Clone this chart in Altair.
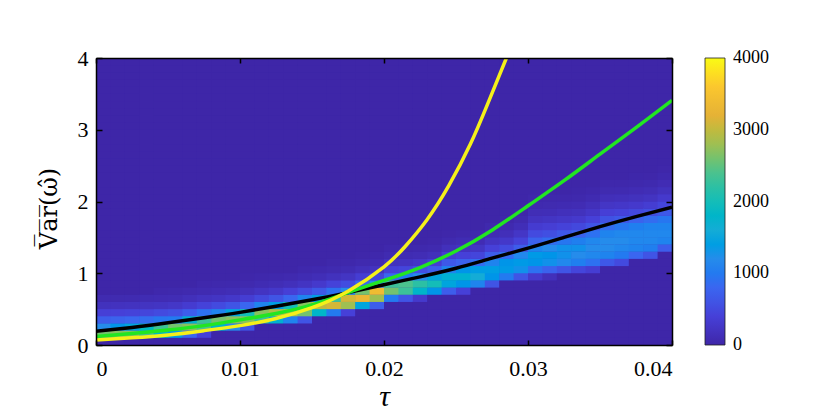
import altair as alt
import pandas as pd

# ---------------- data ----------------
tau_bin = 0.001          # heat-map column width (tau)
var_bin = 0.1            # heat-map row height (Var)
n_tau_bins = 40
n_var_bins = 40
cell_overlap = 0.04      # fraction of a bin by which cells overlap (hides seams)

# for every tau column: index of lowest non-zero Var bin, and counts upward from it
col_start = [1, 1, 1, 1, 1, 1, 1, 1, 2, 2,
             2, 3, 3, 3, 3, 4, 4, 4, 5, 5,
             6, 6, 6, 7, 7, 7, 8, 8, 9, 9,
             9, 9, 10, 10, 10, 11, 11, 12, 12, 13]
col_counts = [
    [2600, 1200, 700, 380, 180, 70],
    [2700, 1300, 750, 400, 190, 70],
    [2700, 1500, 800, 420, 200, 80],
    [2400, 1900, 850, 450, 210, 90],
    [1900, 2300, 950, 500, 230, 100, 30],
    [1400, 2600, 1000, 550, 260, 110, 40],
    [800, 2700, 1700, 700, 330, 150, 60],
    [400, 2400, 2300, 900, 420, 200, 80, 30],
    [1800, 2600, 1100, 500, 230, 100, 40],
    [1200, 2700, 1500, 600, 280, 120, 50],
    [600, 2700, 2000, 800, 350, 150, 60, 20],
    [2300, 2700, 1100, 480, 220, 90, 30],
    [1700, 2900, 1400, 600, 280, 120, 40],
    [1100, 2900, 2000, 800, 380, 160, 60],
    [600, 2600, 2700, 1100, 500, 220, 90, 30],
    [1800, 3000, 1400, 650, 300, 130, 50],
    [1000, 3100, 2300, 900, 420, 180, 70, 25],
    [400, 2800, 3100, 1200, 520, 230, 90, 30],
    [1500, 3300, 2600, 800, 350, 150, 60, 20],
    [700, 2800, 3400, 1200, 450, 200, 80, 30],
    [1000, 2600, 2300, 800, 400, 180, 80, 30],
    [600, 2300, 2400, 1000, 450, 200, 90, 30],
    [300, 1800, 2200, 1200, 550, 250, 110, 40],
    [1300, 2000, 1500, 700, 350, 150, 60, 20],
    [700, 1500, 1700, 1100, 650, 350, 160, 60, 20],
    [400, 1300, 1700, 1300, 750, 400, 200, 90, 30],
    [1100, 1600, 1400, 850, 450, 230, 100, 40],
    [600, 1300, 1400, 1100, 700, 400, 220, 100, 40],
    [1000, 1350, 1300, 850, 500, 280, 140, 60, 20],
    [600, 1250, 1350, 1150, 700, 420, 250, 130, 60, 20],
    [300, 900, 1300, 1350, 1100, 750, 500, 330, 200, 120, 60, 25],
    [150, 750, 1250, 1300, 1200, 850, 550, 370, 230, 130, 70, 30],
    [600, 1150, 1250, 1250, 950, 650, 420, 260, 160, 85, 35],
    [450, 1050, 1200, 1250, 1050, 750, 480, 300, 180, 100, 45, 15],
    [350, 900, 1150, 1200, 1150, 900, 600, 400, 250, 150, 80, 35],
    [650, 1100, 1200, 1200, 1100, 850, 580, 380, 240, 140, 70, 30],
    [500, 1000, 1150, 1200, 1150, 950, 650, 420, 270, 160, 80, 35],
    [800, 1100, 1150, 1150, 1050, 750, 480, 300, 180, 100, 45, 15],
    [600, 1050, 1150, 1150, 1100, 850, 550, 350, 210, 120, 55, 20],
    [700, 1100, 1150, 1100, 950, 650, 450, 300, 180, 100, 50, 20],
]

curve_tau = [0, 0.0025, 0.005, 0.0075, 0.01, 0.0125, 0.015, 0.0175, 0.02,
             0.0225, 0.025, 0.0275, 0.03, 0.0325, 0.035, 0.0375, 0.04]
black_var = [0.19, 0.245, 0.31, 0.38, 0.455, 0.54, 0.63, 0.73, 0.84,
             0.95, 1.07, 1.21, 1.35, 1.50, 1.65, 1.79, 1.92]
green_var = [0.12, 0.16, 0.21, 0.27, 0.35, 0.44, 0.56, 0.73, 0.90,
             1.08, 1.31, 1.60, 1.94, 2.29, 2.66, 3.03, 3.41]
yellow_tau = [0, 0.0025, 0.005, 0.0075, 0.01, 0.0125, 0.015, 0.0175, 0.02,
              0.0215, 0.023, 0.0245, 0.026, 0.0272, 0.0285]
yellow_var = [0.07, 0.10, 0.14, 0.20, 0.27, 0.37, 0.52, 0.75, 1.09,
              1.38, 1.75, 2.22, 2.80, 3.36, 4.0]

x_ticks = [0, 0.01, 0.02, 0.03, 0.04]
y_ticks = [0, 1, 2, 3, 4]
cbar_ticks = [0, 1000, 2000, 3000, 4000]
cbar_domain = [-1, 4001]   # a hair wider than the ticks so end labels centre on them
parula = ["#3E26A8", "#4640D8", "#3A66F0", "#258CEB", "#14ACD6", "#14BDB8",
          "#4BC28E", "#9FBF52", "#E5B236", "#FBC72E", "#F9FB15"]

# ---------------- tables ----------------
rows = []
for i in range(n_tau_bins):
    for j in range(n_var_bins):
        k = j - col_start[i]
        v = col_counts[i][k] if 0 <= k < len(col_counts[i]) else 0
        rows.append({"x0": i * tau_bin, "x1": (i + 1 + cell_overlap) * tau_bin,
                     "y0": j * var_bin, "y1": (j + 1 + cell_overlap) * var_bin, "v": v})
heat_df = pd.DataFrame(rows)
black_df = pd.DataFrame({"tau": curve_tau, "var": black_var})
green_df = pd.DataFrame({"tau": curve_tau, "var": green_var})
yellow_df = pd.DataFrame({"tau": yellow_tau, "var": yellow_var})

W, H = 576, 287
FONT = "Liberation Serif"
xs = alt.Scale(domain=[0, 0.04], nice=False, zero=False)
ys = alt.Scale(domain=[0, 4], nice=False, zero=False)
cs = alt.Scale(type="linear", domain=cbar_domain, range=parula, nice=False, zero=False)

heat = alt.Chart(heat_df).mark_rect(clip=True).encode(
    x=alt.X("x0:Q", scale=xs, axis=alt.Axis(
        orient="bottom", values=x_ticks, format="~g", tickSize=0, labelPadding=13,
        labelFontSize=22, labelFont=FONT, labelColor="black", grid=False,
        domain=True, domainColor="black", domainWidth=1.5, zindex=1,
        title="τ", titleFont=FONT, titleFontSize=30, titleFontStyle="italic",
        titleFontWeight="normal", titleX=W / 2, titleY=66, titleAlign="center",
        titleBaseline="bottom", titleColor="black")),
    x2="x1:Q",
    y=alt.Y("y0:Q", scale=ys, axis=alt.Axis(
        orient="left", values=y_ticks, format="d", tickSize=0, labelPadding=8,
        labelFontSize=22, labelFont=FONT, labelColor="black", grid=False,
        domain=True, domainColor="black", domainWidth=1.5, zindex=1,
        title="V\u0305a\u0305r\u0305(\u03c9\u0302)", titleFont="DejaVu Serif",
        titleFontSize=24, titleFontWeight="normal", titleX=-47, titleY=150,
        titleAngle=270, titleAlign="center", titleBaseline="middle",
        titleColor="black")),
    y2="y1:Q",
    color=alt.Color("v:Q", scale=cs, legend=alt.Legend(
        type="gradient", orient="none", legendX=609, legendY=0,
        direction="vertical", title=None,
        gradientLength=H, gradientThickness=20, values=cbar_ticks,
        labelFont=FONT, labelFontSize=18, labelColor="black", labelOffset=8,
        labelBaseline="middle", labelOverlap=False, padding=0, format="d",
        gradientStrokeColor="#222222", gradientStrokeWidth=0.8)),
)

black_line = alt.Chart(black_df).mark_line(
    color="black", strokeWidth=3.5, interpolate="natural", clip=True).encode(
    x=alt.X("tau:Q", scale=xs, axis=alt.Axis(
        orient="top", offset=-H, values=x_ticks, labels=False, tickSize=5,
        tickColor="black", tickWidth=1.5, domain=False, grid=False, title=None, zindex=1)),
    y=alt.Y("var:Q", scale=ys, axis=alt.Axis(
        orient="right", offset=-W, values=y_ticks, labels=False, tickSize=6,
        tickColor="black", tickWidth=1.5, domain=False, grid=False, title=None, zindex=1)),
)

green_line = alt.Chart(green_df).mark_line(
    color="#22E622", strokeWidth=3.5, interpolate="natural", clip=True).encode(
    x=alt.X("tau:Q", scale=xs, axis=alt.Axis(
        orient="bottom", offset=-H, values=x_ticks, labels=False, tickSize=5,
        tickColor="black", tickWidth=1.5, domain=True, domainColor="black",
        domainWidth=1.5, grid=False, title=None, zindex=1)),
    y=alt.Y("var:Q", scale=ys, axis=alt.Axis(
        orient="left", offset=-W, values=y_ticks, labels=False, tickSize=6,
        tickColor="black", tickWidth=1.5, domain=True, domainColor="black",
        domainWidth=1.5, grid=False, title=None, zindex=1)),
)

yellow_line = alt.Chart(yellow_df).mark_line(
    color="#F5F01A", strokeWidth=3.5, interpolate="natural", clip=True).encode(
    x=alt.X("tau:Q", scale=xs, axis=None),
    y=alt.Y("var:Q", scale=ys, axis=None),
)

chart = alt.layer(heat, black_line, green_line, yellow_line).resolve_axis(
    x="independent", y="independent"
).properties(
    width=W, height=H,
    autosize=alt.AutoSizeParams(type="none"),
    padding={"left": 88, "top": 50, "right": 150, "bottom": 66},
    background="white",
).configure_view(stroke=None, fill="#3E26A8")

chart.save("out.html", embed_options={"renderer": "svg", "actions": False})
